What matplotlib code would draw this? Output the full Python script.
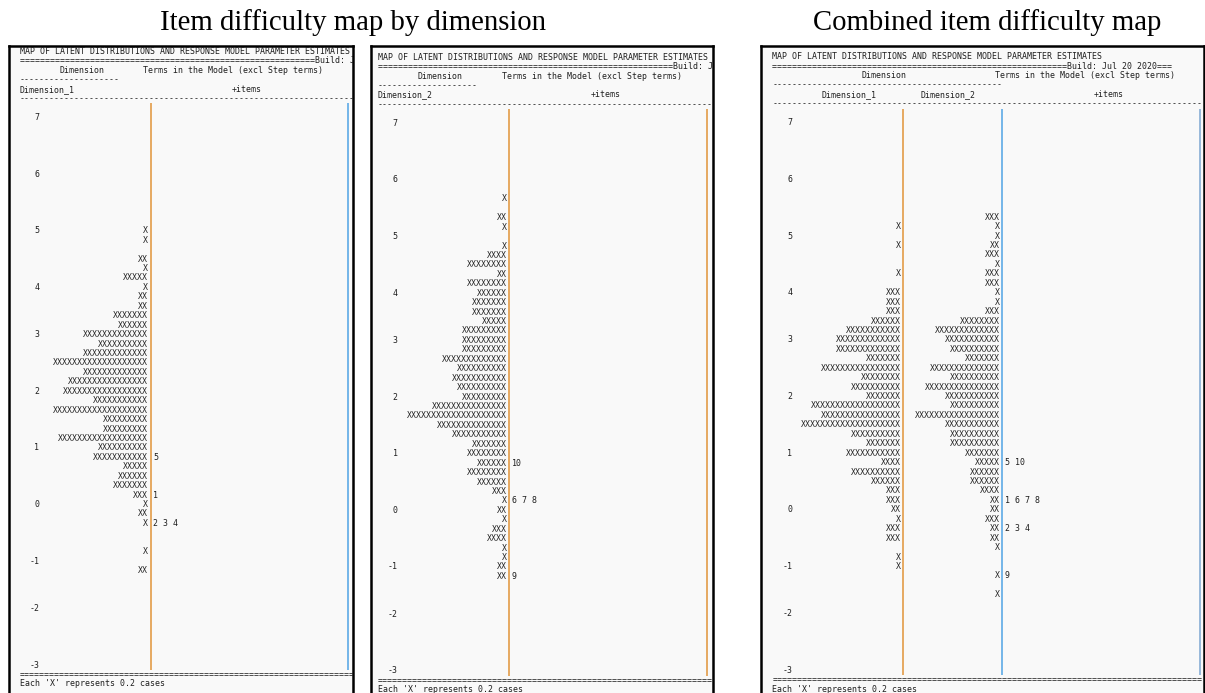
import matplotlib.pyplot as plt

W, H = 1205, 693
fig = plt.figure(figsize=(W / 100, H / 100), dpi=100)

MONO = "DejaVu Sans Mono"
CW = 4.94      # px per character cell
PITCH = 9.44   # px per text line
FS = CW / 0.602 * 72 / 100

ORANGE = "#e39c48"
BLUE = "#5eaae6"
GREYBLUE = "#86add4"
INK = "#1e1e1e"

# logit scale printed down the left side, with the text row it lands on
scale_values = [7, 6, 5, 4, 3, 2, 1, 0, -1, -2, -3]
scale_rows = [0, 6, 12, 18, 23, 29, 35, 41, 47, 52, 58]

# number of X's per row (rows 0..58), each X = 0.2 cases
dim1_counts = [0] * 12 + [1, 1, 0, 2, 1, 5, 1, 2, 2, 7, 6, 13, 10, 13, 19, 13, 16,
                          17, 11, 19, 9, 9, 18, 10, 11, 5, 6, 7, 3, 1, 2, 1, 0, 0,
                          1, 0, 2] + [0] * 10
dim2_counts = [0] * 8 + [1, 0, 2, 1, 0, 1, 4, 8, 2, 8, 6, 7, 7, 5, 9, 9, 9, 13, 10,
                         11, 10, 9, 15, 20, 14, 11, 7, 8, 6, 8, 6, 3, 1, 2, 1, 3, 4,
                         1, 1, 2, 2] + [0] * 10

# combined (two-dimensional) run
comb_dim1_counts = [0] * 11 + [1, 0, 1, 0, 0, 1, 0, 3, 3, 3, 6, 11, 13, 13, 7, 16, 8,
                               10, 7, 18, 16, 20, 10, 7, 11, 4, 10, 6, 3, 3, 2, 1,
                               3, 3, 0, 1, 1] + [0] * 11
comb_dim2_counts = [0] * 10 + [3, 1, 1, 2, 3, 1, 3, 3, 1, 1, 3, 8, 13, 11, 10, 7, 14,
                               10, 15, 11, 10, 17, 11, 10, 10, 7, 5, 6, 6, 4, 2, 2,
                               3, 2, 2, 1, 0, 0, 1, 0, 1] + [0] * 8

# item locations (row -> item numbers)
dim1_items = {36: "5", 40: "1", 43: "2 3 4"}
dim2_items = {36: "10", 40: "6 7 8", 48: "9"}
comb_items = {36: "5 10", 40: "1 6 7 8", 43: "2 3 4", 48: "9"}

TITLE_LINE = "MAP OF LATENT DISTRIBUTIONS AND RESPONSE MODEL PARAMETER ESTIMATES"
BUILD_LINE = "=" * 59 + "Build: Jul 20 2020==="
FOOTER = "Each 'X' represents 0.2 cases"
N_ROWS = 59


def put(ax, col, row, s, ha="left", color=INK):
    ax.text(col, row, s, ha=ha, va="center", family=MONO, fontsize=FS,
            color=color, clip_on=True)


def wright_panel(frame, x0, y0, header, columns, items, bars, rule_len):
    fl, ft, fr = frame
    fb = H + 20
    ax = fig.add_axes([fl / W, 1 - fb / H, (fr - fl) / W, (fb - ft) / H])
    ax.set_xlim((fl - x0) / CW, (fr - x0) / CW)
    ax.set_ylim((fb - y0) / PITCH, (ft - y0) / PITCH)
    ax.set_facecolor("#f9f9f9")
    ax.set_xticks([])
    ax.set_yticks([])
    for side in ("left", "top", "right"):
        ax.spines[side].set_linewidth(1.8)
        ax.spines[side].set_color("black")
    ax.spines["bottom"].set_visible(False)

    for row, col, s in header:
        put(ax, col, row, s)
    put(ax, 0, -2, "-" * rule_len)
    put(ax, 0, N_ROWS, "=" * rule_len)
    put(ax, 0, N_ROWS + 1, FOOTER)

    for v, r in zip(scale_values, scale_rows):
        put(ax, 4, r, str(v), ha="right")

    for counts, bar_col in columns:
        for r, n in enumerate(counts):
            if n:
                put(ax, bar_col, r, "X" * n, ha="right", color="#262626")

    item_col = columns[-1][1] + 1
    for r, s in items.items():
        put(ax, item_col + 0.05, r, s)

    # the '|' separators run from the blank line under the header to the -3 row
    for bar_col, color in bars:
        ax.plot([bar_col + 0.5] * 2, [-1.5, N_ROWS - 0.5], color=color,
                lw=1.2, solid_capstyle="butt")
    return ax


single_header = [
    (-7, 0, TITLE_LINE),
    (-6, 0, BUILD_LINE),
    (-5, 8, "Dimension"),
    (-5, 25, "Terms in the Model (excl Step terms)"),
    (-4, 0, "-" * 20),
]

wright_panel((9, 46, 353), 19.6, 117.5,
             single_header + [(-3, 0, "Dimension_1"), (-3, 43, "+items")],
             [(dim1_counts, 26)], dim1_items,
             [(26, ORANGE), (66, BLUE)], 67)

wright_panel((371, 46, 713), 378.0, 123.3,
             single_header + [(-3, 0, "Dimension_2"), (-3, 43, "+items")],
             [(dim2_counts, 26)], dim2_items,
             [(26, ORANGE), (66, ORANGE)], 67)

wright_panel((761, 46, 1204), 772.5, 122.8,
             [(-7, 0, TITLE_LINE),
              (-6, 0, BUILD_LINE),
              (-5, 18, "Dimension"),
              (-5, 45, "Terms in the Model (excl Step terms)"),
              (-4, 0, "-" * 46),
              (-3, 10, "Dimension_1"),
              (-3, 30, "Dimension_2"),
              (-3, 65, "+items")],
             [(comb_dim1_counts, 26), (comb_dim2_counts, 46)], comb_items,
             [(26, ORANGE), (46, BLUE), (86, GREYBLUE)], 86)

fig.text(353 / W, 1 - 30 / H, "Item difficulty map by dimension", ha="center",
         va="baseline", family="Liberation Serif", fontsize=20.7)
fig.text(987 / W, 1 - 30 / H, "Combined item difficulty map", ha="center",
         va="baseline", family="Liberation Serif", fontsize=20.7)

fig.savefig("out.png", dpi=100)
